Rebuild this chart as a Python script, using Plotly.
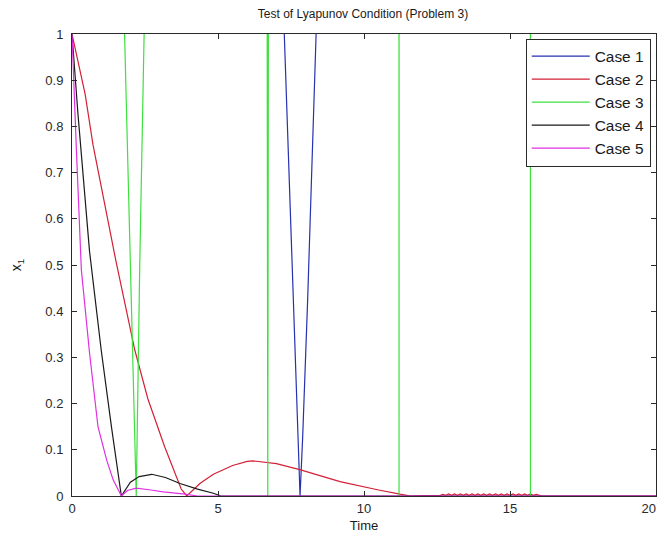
import plotly.graph_objects as go

# ---- data ----
# Case 1 (diverging, passes through zero near t = 7.8)
t_case1 = [0.0, 7.0, 7.27, 7.58, 7.75, 7.81, 7.90, 8.07, 8.36, 8.6, 20.0]
x_case1 = [1.0, 5.0, 1.0, 0.424, 0.128, 0.0, 0.128, 0.424, 1.0, 5.0, 50.0]

# Case 2
t_case2 = [0.0, 0.45, 0.72, 1.19, 1.5, 2.15, 2.6, 3.17, 3.74, 3.93, 4.38, 4.84, 5.5, 6.0, 6.2,
           7.0, 7.8, 9.18, 10.0, 10.5, 11.23, 11.6, 12.0, 12.6,
           12.7, 12.8, 12.9, 13.0, 13.1, 13.2, 13.3, 13.4, 13.5, 13.6, 13.7, 13.8, 13.9, 14.0,
           14.1, 14.2, 14.3, 14.4, 14.5, 14.6, 14.7, 14.8, 14.9, 15.0, 15.1, 15.2, 15.3, 15.4,
           15.5, 15.6, 15.7, 15.8, 15.9, 15.96, 16.1, 20.0]
x_case2 = [1.0, 0.87, 0.76, 0.61, 0.51, 0.316, 0.21, 0.107, 0.015, 0.0, 0.027, 0.047, 0.066, 0.075, 0.076,
           0.07, 0.057, 0.031, 0.019, 0.013, 0.004, 0.0, 0.001, 0.001,
           0.0035, 0.0015, 0.0045, 0.0015, 0.0045, 0.0015, 0.0045, 0.0015, 0.0045, 0.0015, 0.0045, 0.0015,
           0.0045, 0.0015, 0.0045, 0.0015, 0.0045, 0.0015, 0.0045, 0.0015, 0.0045, 0.0015, 0.0045, 0.0015,
           0.0045, 0.0015, 0.0045, 0.0015, 0.0045, 0.0015, 0.0045, 0.0015, 0.0035, 0.002, 0.0, 0.0]

# Case 3 (oscillating with growing amplitude)
t_case3 = [0.0, 1.0, 1.80, 2.01, 2.20, 2.32, 2.47, 3.0, 6.4, 6.685, 6.705, 6.725, 7.0,
           11.0, 11.198, 11.2, 11.202, 11.4, 15.5, 15.698, 15.7, 15.702, 15.9, 20.0]
x_case3 = [1.0, 3.0, 1.0, 0.49, 0.0, 0.5, 1.0, 3.0, 30.0, 1.0, 0.0, 1.0, 30.0,
           300.0, 1.0, 0.0, 1.0, 300.0, 3000.0, 1.0, 0.0, 1.0, 3000.0, 30000.0]

# Case 4
t_case4 = [0.0, 0.2, 0.6, 1.0, 1.35, 1.69, 2.0, 2.3, 2.73, 3.2, 3.7, 4.3, 4.84, 5.1, 20.0]
x_case4 = [1.0, 0.83, 0.53, 0.316, 0.15, 0.0, 0.03, 0.042, 0.047, 0.04, 0.027, 0.015, 0.006, 0.0, 0.0]

# Case 5
t_case5 = [0.0, 0.04, 0.15, 0.32, 0.6, 0.89, 1.19, 1.41, 1.69, 1.9, 2.2, 2.7, 3.13, 3.87, 4.3, 20.0]
x_case5 = [1.0, 0.93, 0.75, 0.49, 0.31, 0.15, 0.077, 0.035, 0.0, 0.012, 0.017, 0.013, 0.009, 0.004, 0.0, 0.0]

case_names = ["Case 1", "Case 2", "Case 3", "Case 4", "Case 5"]
case_colors = ["#2632b0", "#d42036", "#3ee03e", "#1a1a1a", "#e030e0"]

x_ticks = [0, 5, 10, 15, 20]
x_tick_text = ["0", "5", "10", "15", "20\u00a0\u00a0\u00a0\u00a0"]  # last label padded so it stays on the page
y_ticks = [0, 0.1, 0.2, 0.3, 0.4, 0.5, 0.6, 0.7, 0.8, 0.9, 1]
y_tick_text = ["0", "0.1", "0.2", "0.3", "0.4", "0.5", "0.6", "0.7", "0.8", "0.9", "1"]

series = [(t_case1, x_case1), (t_case2, x_case2), (t_case3, x_case3),
          (t_case4, x_case4), (t_case5, x_case5)]

FONT = "Liberation Sans, Arial, Helvetica, sans-serif"

fig = go.Figure()
for (t, x), name, color in zip(series, case_names, case_colors):
    fig.add_trace(go.Scatter(x=t, y=x, mode="lines", name=name,
                             line=dict(color=color, width=1.2)))

axis_common = dict(showline=True, linecolor="#2a2a2a", linewidth=1, mirror="ticks",
                   ticks="inside", ticklen=5, tickcolor="#2a2a2a", showgrid=False,
                   zeroline=False, automargin=False, ticklabeloverflow="allow",
                   tickfont=dict(family=FONT, size=13, color="#2a2a2a"))

# the page body adds an 8px offset on every side; the figure is sized so the page does not overflow
FIG_W, FIG_H = 649, 525
fig.update_layout(
    width=FIG_W, height=FIG_H,
    margin=dict(l=64, r=1, t=26, b=37, autoexpand=False),
    paper_bgcolor="white", plot_bgcolor="white",
    title=dict(text="Test of Lyapunov Condition (Problem 3)", x=(363 - 8) / FIG_W, xanchor="center",
               y=1 - 6 / FIG_H, yanchor="middle", font=dict(family=FONT, size=12, color="#1a1a1a")),
    xaxis=dict(range=[0, 20], tickvals=x_ticks, ticktext=x_tick_text,
               title=dict(text="Time", font=dict(family=FONT, size=13, color="#1a1a1a"), standoff=13),
               **axis_common),
    yaxis=dict(range=[0, 1], tickvals=y_ticks, ticktext=y_tick_text, ticklabelstandoff=5,
               title=dict(text="x<sub>1</sub>", font=dict(family=FONT, size=14, color="#1a1a1a"), standoff=32),
               **axis_common),
    legend=dict(x=0.991, xanchor="right", y=0.99, yanchor="top",
                bordercolor="#2a2a2a", borderwidth=1, bgcolor="white",
                font=dict(family=FONT, size=15.4, color="#1a1a1a"),
                itemwidth=58, tracegroupgap=0),
    showlegend=True,
)

fig.write_html("out.html")
